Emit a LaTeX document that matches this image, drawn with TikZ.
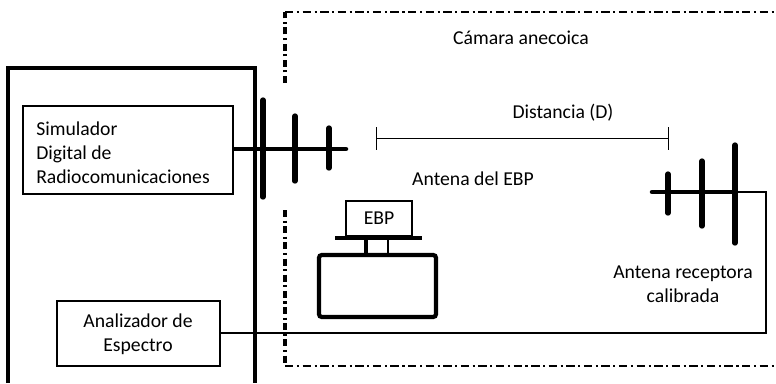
\documentclass[tikz,border=0pt]{standalone}
\usepackage{fontspec}
\setmainfont{Carlito}
\begin{document}
\begin{tikzpicture}[x=0.025cm,y=-0.025cm]
    \tikzstyle{every node}=[font=\fontsize{14}{17}\selectfont,inner sep=0pt]
    \tikzstyle{box}=[draw,rectangle,line width=1.6pt,align=center]
    \tikzstyle{chamberv}=[line width=2.8pt,dash pattern=on 5pt off 2.5pt on 1.5pt off 2.5pt]
    \tikzstyle{chamberh}=[line width=1.3pt,dash pattern=on 6pt off 2.5pt on 1.5pt off 2.5pt]
    \tikzstyle{antelem}=[line width=3.8pt,line cap=round]
    \useasboundingbox (0,0) rectangle (776,383);

    \draw[line width=2.8pt] (8,383) -- (8,68) -- (255,68) -- (255,383);

    \draw[chamberv] (285,83) -- (285,12);
    \draw[chamberh] (285,12) -- (776,12);
    \draw[chamberv] (285,210) -- (285,366);
    \draw[chamberh] (285,366) -- (776,366);

    \node[box,minimum width=5.25cm,minimum height=2.2cm,anchor=north west] (sim) at (22,105) {};
    \node[align=left,anchor=west] (simtext) at (36,152.5) {Simulador\\Digital de\\Radiocomunicaciones};
    \node[box,minimum width=4.075cm,minimum height=1.625cm,anchor=north west] (ana) at (56,300) {};
    \node[align=center] (anatext) at (138,334.5) {Analizador de\\Espectro};

    \coordinate (txfeed) at (262,149);
    \coordinate (txend) at (346,149);
    \draw[line width=2.2pt] (sim.east |- txfeed) -- (txfeed);
    \draw[line width=3.2pt,line cap=round] (txfeed) -- (txend);
    \draw[antelem] (263,100) -- (263,197);
    \draw[antelem] (295,116) -- (295,181);
    \draw[antelem] (329,128) -- (329,168);

    \coordinate (dleft) at (376,138);
    \coordinate (dright) at (668,138);
    \draw[line width=0.6pt] (dleft) -- (dright);
    \draw[line width=0.6pt] (376,127) -- (376,150);
    \draw[line width=0.6pt] (668,127) -- (668,150);
    \node (dist) at (563,113) {Distancia (D)};
    \node (camara) at (521,38) {Cámara anecoica};
    \node (antebp) at (473,179) {Antena del EBP};

    \coordinate (rxstart) at (652,192);
    \coordinate (rxboom) at (735,192);
    \coordinate (rxcorner) at (766,192);
    \draw[line width=3.2pt,line cap=round] (rxstart) -- (rxboom);
    \draw[antelem] (668,174) -- (668,213);
    \draw[antelem] (702,161) -- (702,226);
    \draw[antelem] (735,145) -- (735,243);
    \draw[line width=1pt] (rxboom) -- (rxcorner) |- (ana.east |- 0,333);
    \node[align=center] (antrx) at (683,284) {Antena receptora\\calibrada};

    \node[box,minimum width=1.65cm,minimum height=0.875cm,anchor=south west] (ebp) at (345,237) {EBP};
    \coordinate (plateleft) at (335,238);
    \coordinate (plateright) at (422,238);
    \draw[line width=3pt] (plateleft) -- (plateright);
    \draw[line width=3pt,rounded corners=2pt] (319,255) rectangle (436,317);
    \draw[line width=2.2pt] (366,238) -- (366,255);
    \draw[line width=1.2pt] (388,238) -- (388,255);
\end{tikzpicture}
\end{document}
